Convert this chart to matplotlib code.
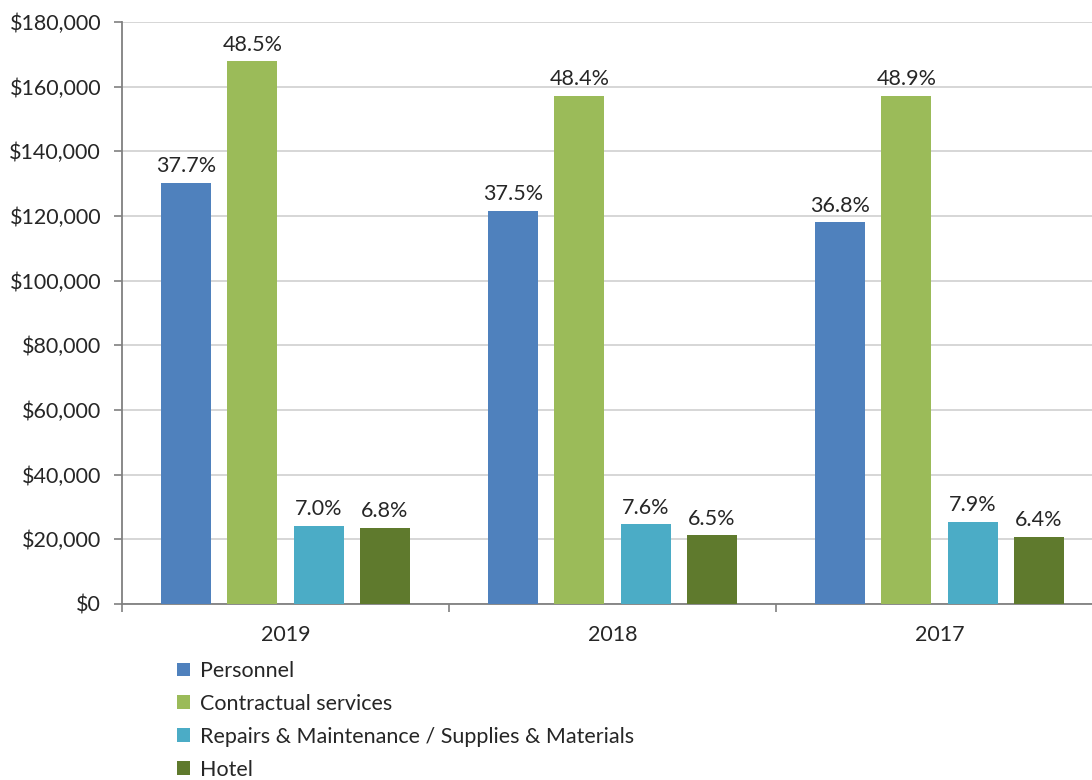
import matplotlib
matplotlib.use("Agg")
import matplotlib.pyplot as plt
from matplotlib.ticker import FuncFormatter, FixedLocator
import numpy as np

years = ["2019", "2018", "2017"]
series_names = ["Personnel", "Contractual services",
                "Repairs & Maintenance / Supplies & Materials", "Hotel"]
personnel = [130300, 121600, 118000]
contractual = [167800, 157100, 157000]
repairs = [24200, 24600, 25500]
hotel = [23600, 21200, 20600]
pct_personnel = ["37.7%", "37.5%", "36.8%"]
pct_contractual = ["48.5%", "48.4%", "48.9%"]
pct_repairs = ["7.0%", "7.6%", "7.9%"]
pct_hotel = ["6.8%", "6.5%", "6.4%"]

colors = ["#4F81BD", "#9BBB59", "#4BACC6", "#5F7A2D"]
values = [personnel, contractual, repairs, hotel]
pcts = [pct_personnel, pct_contractual, pct_repairs, pct_hotel]

plt.rcParams['font.family'] = ['Lato', 'DejaVu Sans']
fs = 15.5
txtc = "#262626"

fig = plt.figure(figsize=(10.92, 7.80), dpi=100)
ax = fig.add_axes([122/1092, 1 - 604/780, (1103-122)/1092, 582/780])

x = np.arange(len(years))
bw = 0.153
step = 0.202
offsets = (np.arange(4) - 1.5) * step
for i in range(4):
    bars = ax.bar(x + offsets[i], values[i], width=bw, color=colors[i],
                  label=series_names[i], zorder=3)
    for b, p in zip(bars, pcts[i]):
        ax.annotate(p, (b.get_x() + b.get_width()/2, b.get_height()),
                    xytext=(0, 5), textcoords="offset points",
                    ha="center", va="bottom", fontsize=fs, color=txtc)

ax.set_xlim(-0.5, 2.5)
ax.set_ylim(0, 180000)
ax.yaxis.set_major_locator(FixedLocator(np.arange(0, 180001, 20000)))
ax.yaxis.set_major_formatter(FuncFormatter(lambda v, p: f"${int(v):,}"))
ax.grid(axis="y", color="#D0D0D0", linewidth=1.2, zorder=0)

ax.set_xticks([-0.5, 0.5, 1.5, 2.5])
ax.set_xticklabels([])
ax.set_xticks(x, minor=True)
ax.set_xticklabels(years, minor=True)
ax.tick_params(axis="x", which="major", length=6, color="#808080", width=1.2)
ax.tick_params(axis="x", which="minor", length=0, pad=15, labelsize=fs, labelcolor=txtc)
ax.tick_params(axis="y", length=6, color="#808080", width=1.2, labelsize=fs,
               labelcolor=txtc, pad=9)

for s in ["top", "right"]:
    ax.spines[s].set_visible(False)
for s in ["left", "bottom"]:
    ax.spines[s].set_color("#808080")
    ax.spines[s].set_linewidth(1.3)

handles, labels = ax.get_legend_handles_labels()
fig.legend(handles, labels, loc="upper left",
           bbox_to_anchor=(177/1092, 1 - 661/780), frameon=False,
           fontsize=fs, handlelength=0.6, handleheight=0.6,
           handletextpad=0.45, labelspacing=0.6, labelcolor=txtc,
           borderaxespad=0, borderpad=0)

fig.savefig("out.png", dpi=100)
